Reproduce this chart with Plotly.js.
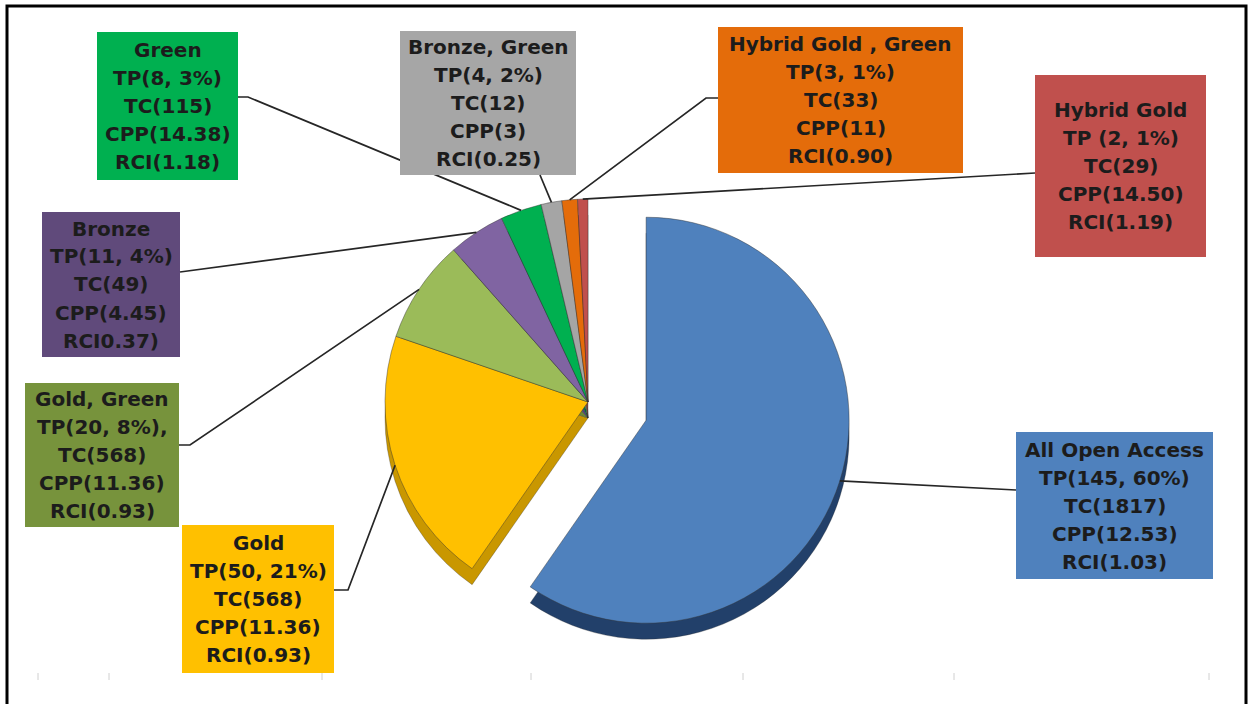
<!DOCTYPE html>
<html>
<head>
<meta charset="utf-8">
<script src="https://cdn.plot.ly/plotly-3.0.1.min.js"></script>
<style>html,body{margin:0;padding:0;background:#fff;}#chart{width:1251px;height:704px;}</style>
</head>
<body>
<div id="chart"></div>
<script>
// ---------- data ----------
const categories = ['All Open Access', 'Gold', 'Gold, Green', 'Bronze', 'Green', 'Bronze, Green', 'Hybrid Gold , Green', 'Hybrid Gold'];
const tpValues   = [145, 50, 20, 11, 8, 4, 3, 2];
const tpLabels   = ['TP(145, 60%)', 'TP(50, 21%)', 'TP(20, 8%),', 'TP(11, 4%)', 'TP(8, 3%)', 'TP(4, 2%)', 'TP(3, 1%)', 'TP (2, 1%)'];
const tcLabels   = ['TC(1817)', 'TC(568)', 'TC(568)', 'TC(49)', 'TC(115)', 'TC(12)', 'TC(33)', 'TC(29)'];
const cppLabels  = ['CPP(12.53)', 'CPP(11.36)', 'CPP(11.36)', 'CPP(4.45)', 'CPP(14.38)', 'CPP(3)', 'CPP(11)', 'CPP(14.50)'];
const rciLabels  = ['RCI(1.03)', 'RCI(0.93)', 'RCI(0.93)', 'RCI0.37)', 'RCI(1.18)', 'RCI(0.25)', 'RCI(0.90)', 'RCI(1.19)'];

// ---------- styles / layout geometry ----------
const W = 1251, H = 704;
const px = x => x / W, py = y => 1 - y / H;
const sliceColors = ['#4F81BD', '#FFC000', '#9BBB59', '#8064A2', '#00B050', '#A5A5A5', '#E46C0A', '#C0504D'];
const sideColors  = ['#22406A', '#C99700', '#6E8A35', '#56437A', '#007A38', '#767676', '#A04A05', '#8E3431'];
const boxColors   = ['#4F81BD', '#FFC000', '#77933C', '#604A7B', '#00B050', '#A6A6A6', '#E46C0A', '#C0504D'];
const pullOut = [0.3, 0, 0, 0, 0, 0, 0, 0];
const pie = {cx: 588, cy: 402, r: 203, depth: 16};
const maxPull = Math.max(...pullOut);
const half = pie.r * (1 + maxPull);
const lineGap = 28;

// label boxes: [x0, y0, x1, y1], attach point, optional elbow
const boxes = [
  {b: [1016, 432, 1213, 579], a: [1016, 490]},
  {b: [182, 525, 334, 673], a: [334, 590], e: [348, 590]},
  {b: [25, 383, 179, 527], a: [179, 445], e: [190, 445]},
  {b: [42, 212, 180, 357], a: [180, 272]},
  {b: [97, 32, 238, 180], a: [238, 97], e: [248, 97]},
  {b: [400, 31, 576, 175], a: [540, 175]},
  {b: [718, 27, 963, 173], a: [718, 98], e: [706, 98]},
  {b: [1035, 75, 1206, 257], a: [1035, 173]}
];

function domainFor(dy) {
  return {
    x: [px(pie.cx - half), px(pie.cx + half)],
    y: [py(pie.cy + dy + half), py(pie.cy + dy - half)]
  };
}

const common = {
  type: 'pie', values: tpValues, labels: categories, sort: false,
  direction: 'clockwise', rotation: 0, pull: pullOut,
  textinfo: 'none', hoverinfo: 'label+value', showlegend: false
};

const traces = [
  Object.assign({}, common, {
    domain: domainFor(pie.depth),
    marker: {colors: sideColors, line: {color: 'rgba(40,40,40,0.5)', width: 0.6}}
  }),
  Object.assign({}, common, {
    domain: domainFor(0),
    marker: {colors: sliceColors, line: {color: 'rgba(50,50,50,0.55)', width: 0.8}}
  })
];

// leader anchors derived from the slice angles
const total = tpValues.reduce((s, v) => s + v, 0);
let cum = 0;
const shapes = [];
const annotations = [];
tpValues.forEach((v, i) => {
  const theta = (cum + v / 2) / total * 2 * Math.PI;
  cum += v;
  const R = pie.r * (1 + pullOut[i]);
  const ax = pie.cx + R * Math.sin(theta);
  const ay = pie.cy - R * Math.cos(theta);
  const bx = boxes[i];
  const [x0, y0, x1, y1] = bx.b;
  shapes.push({type: 'rect', xref: 'paper', yref: 'paper', x0: px(x0), x1: px(x1), y0: py(y1), y1: py(y0),
               fillcolor: boxColors[i], line: {width: 0}, layer: 'above'});
  let path = 'M' + px(bx.a[0]) + ',' + py(bx.a[1]);
  if (bx.e) path += ' L' + px(bx.e[0]) + ',' + py(bx.e[1]);
  path += ' L' + px(ax) + ',' + py(ay);
  shapes.push({type: 'path', xref: 'paper', yref: 'paper', path: path,
               line: {color: '#262626', width: 1.7}, layer: 'above'});
  const lines = [categories[i], tpLabels[i], tcLabels[i], cppLabels[i], rciLabels[i]];
  const midY = (y0 + y1) / 2;
  lines.forEach((t, k) => {
    annotations.push({
      xref: 'paper', yref: 'paper', x: px((x0 + x1) / 2), y: py(midY + (k - 2) * lineGap),
      xanchor: 'center', yanchor: 'middle', showarrow: false,
      text: t,
      font: {family: 'DejaVu Sans, Verdana, sans-serif', size: 20, color: '#1c1c1c', weight: 700}
    });
  });
});

// outer frame
shapes.push({type: 'rect', xref: 'paper', yref: 'paper', x0: px(7), x1: px(1246), y0: py(6), y1: py(720),
             line: {color: '#000', width: 3}, fillcolor: 'rgba(0,0,0,0)', layer: 'above'});
// faint tick marks along the bottom
[38, 109, 322, 531, 743, 954, 1209].forEach(x => {
  shapes.push({type: 'line', xref: 'paper', yref: 'paper', x0: px(x), x1: px(x), y0: py(673), y1: py(680),
               line: {color: '#d0d0d0', width: 1}, layer: 'above'});
});

const layout = {
  width: W, height: H,
  margin: {l: 0, r: 0, t: 0, b: 0},
  paper_bgcolor: '#ffffff', plot_bgcolor: '#ffffff',
  showlegend: false,
  shapes: shapes,
  annotations: annotations
};

Plotly.newPlot('chart', traces, layout, {displayModeBar: false, staticPlot: true});
</script>
</body>
</html>
